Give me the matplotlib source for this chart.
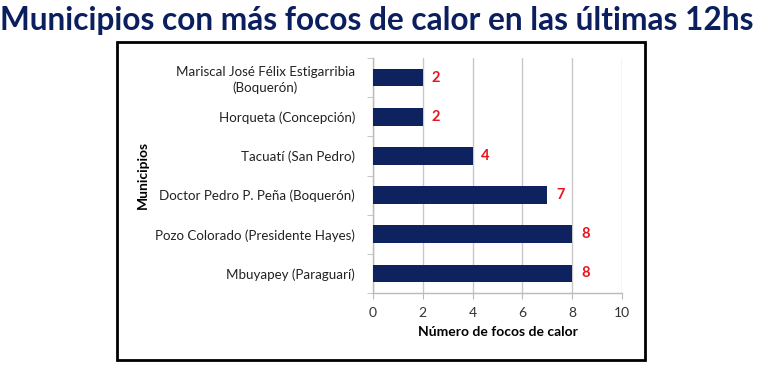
import matplotlib
matplotlib.use("Agg")
import matplotlib.pyplot as plt
from matplotlib.patches import Rectangle

municipios = [
    "Mariscal José Félix Estigarribia\n(Boquerón)",
    "Horqueta (Concepción)",
    "Tacuatí (San Pedro)",
    "Doctor Pedro P. Peña (Boquerón)",
    "Pozo Colorado (Presidente Hayes)",
    "Mbuyapey (Paraguarí)",
]
focos = [2, 2, 4, 7, 8, 8]
x_ticks = [0, 2, 4, 6, 8, 10]

title = "Municipios con más focos de calor en las últimas 12hs"
xlabel = "Número de focos de calor"
ylabel = "Municipios"

FONT = ["Lato", "DejaVu Sans"]
plt.rcParams["font.family"] = FONT

navy = "#0e2260"
fig = plt.figure(figsize=(7.7, 3.68), dpi=100)
fig.patch.set_facecolor("white")

fig.text(0.4896, 0.943, title, ha="center", va="center", fontsize=22.8,
         fontweight="bold", color="#0b1f5e")

fig.patches.append(Rectangle((117/770, 8/368), 528/770, 318/368,
                             transform=fig.transFigure, fill=False,
                             edgecolor="black", linewidth=2, zorder=5))

ax = fig.add_axes([373/770, 75/368, 249/770, 235/368])
n = len(municipios)
ypos = list(range(n))[::-1]
ax.barh(ypos, focos, height=0.45, color=navy, zorder=3)
for y, v in zip(ypos, focos):
    ax.text(v + 0.35, y, str(v), ha="left", va="center", color="#e8141c",
            fontsize=10.5, fontweight="bold", zorder=4)

ax.set_xlim(0, 10)
ax.set_ylim(-0.5, n - 0.5)
ax.set_xticks(x_ticks)
ax.set_xticklabels([str(t) for t in x_ticks], fontsize=10, color="#333333")
ax.set_yticks(ypos)
ax.set_yticklabels(municipios, fontsize=9.6, color="#222222", ha="right",
                   multialignment="center", linespacing=1.3)
ax.set_yticks([i - 0.5 for i in range(n + 1)], minor=True)
ax.tick_params(axis="y", which="major", length=0, pad=13)
ax.tick_params(axis="y", which="minor", length=4, color="#bbbbbb", direction="out")
ax.tick_params(axis="x", length=4, color="#bbbbbb", pad=6)
ax.grid(axis="x", color="#c8c8c8", linewidth=1, zorder=0)
for s in ["top", "right"]:
    ax.spines[s].set_visible(False)
for s in ["left", "bottom"]:
    ax.spines[s].set_color("#bbbbbb")
    ax.spines[s].set_linewidth(1)

ax.set_xlabel(xlabel, fontsize=10, fontweight="bold", labelpad=5)
fig.text(143/770, 1 - 175/368, ylabel, rotation=90, ha="center", va="center",
         fontsize=10, fontweight="bold")

fig.savefig("out.png", dpi=100)
